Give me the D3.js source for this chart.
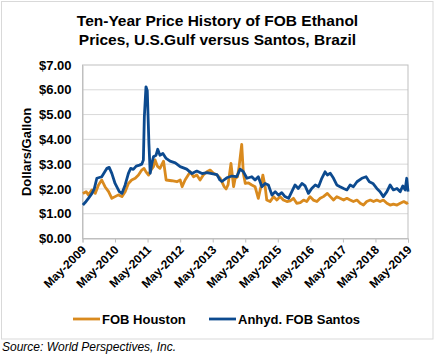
<!DOCTYPE html>
<html>
<head>
<meta charset="utf-8">
<script src="https://cdn.jsdelivr.net/npm/d3@7"></script>
<style>
  html, body { margin: 0; padding: 0; background: #fff; }
  svg { display: block; font-family: "Liberation Sans", Arial, sans-serif; }
</style>
</head>
<body>
<svg id="chart" width="435" height="356"></svg>
<script>
// ---- data (decimal years, $/gallon) ----
const titleLines = ["Ten-Year Price History of FOB Ethanol", "Prices, U.S.Gulf versus Santos, Brazil"];
const yTicks = [0, 1, 2, 3, 4, 5, 6, 7];
const xTickLabels = ["May-2009","May-2010","May-2011","May-2012","May-2013","May-2014","May-2015","May-2016","May-2017","May-2018","May-2019"];
const seriesNames = ["FOB Houston", "Anhyd. FOB Santos"];

const santosTime = [2009.34,2009.41,2009.51,2009.62,2009.69,2009.77,2009.92,2010.08,2010.15,2010.23,2010.33,2010.46,2010.54,2010.64,2010.74,2010.81,2010.89,2010.98,2011.08,2011.15,2011.20,2011.23,2011.28,2011.32,2011.37,2011.41,2011.46,2011.51,2011.59,2011.64,2011.71,2011.80,2011.90,2012.02,2012.18,2012.33,2012.53,2012.69,2012.84,2013.00,2013.15,2013.30,2013.46,2013.55,2013.61,2013.76,2013.92,2014.07,2014.17,2014.27,2014.38,2014.53,2014.63,2014.73,2014.84,2014.94,2015.04,2015.15,2015.25,2015.35,2015.45,2015.55,2015.66,2015.76,2015.86,2015.96,2016.07,2016.17,2016.27,2016.37,2016.48,2016.58,2016.68,2016.78,2016.85,2016.94,2017.04,2017.14,2017.24,2017.35,2017.45,2017.55,2017.65,2017.76,2017.91,2018.04,2018.14,2018.25,2018.37,2018.47,2018.57,2018.68,2018.78,2018.88,2018.99,2019.09,2019.17,2019.24,2019.29,2019.33];
const santosPrice = [1.35,1.45,1.62,1.82,2.00,2.43,2.49,2.83,2.87,2.63,2.22,1.89,1.82,2.16,2.63,2.83,2.79,2.92,2.96,3.00,3.17,4.91,6.12,5.96,3.84,2.63,3.03,3.30,3.36,3.60,3.36,3.43,3.23,3.12,3.05,2.90,2.80,2.62,2.72,2.62,2.66,2.62,2.58,2.36,2.30,2.45,2.52,2.50,2.80,2.70,2.43,2.49,2.36,2.49,2.09,2.22,2.16,1.75,1.89,1.75,1.85,1.69,1.62,1.89,2.16,2.02,2.22,2.12,1.82,2.02,2.16,2.09,2.43,2.69,2.56,2.63,2.43,2.16,2.09,2.02,1.96,2.16,2.09,2.29,2.43,2.49,2.29,2.22,2.02,1.89,1.69,1.89,2.16,1.96,2.02,1.89,2.12,1.96,2.43,1.89];

const houstonTime = [2009.34,2009.44,2009.51,2009.62,2009.72,2009.82,2009.92,2010.02,2010.13,2010.23,2010.33,2010.43,2010.54,2010.64,2010.74,2010.84,2010.95,2011.05,2011.15,2011.22,2011.28,2011.36,2011.43,2011.51,2011.56,2011.63,2011.71,2011.82,2011.90,2012.07,2012.23,2012.33,2012.39,2012.48,2012.64,2012.74,2012.84,2012.94,2013.04,2013.15,2013.25,2013.35,2013.46,2013.56,2013.68,2013.74,2013.80,2013.89,2013.97,2014.02,2014.09,2014.14,2014.22,2014.27,2014.33,2014.43,2014.53,2014.63,2014.73,2014.81,2014.87,2014.94,2014.99,2015.09,2015.20,2015.30,2015.40,2015.50,2015.61,2015.71,2015.81,2015.91,2016.02,2016.12,2016.22,2016.32,2016.42,2016.53,2016.63,2016.73,2016.85,2016.94,2017.04,2017.14,2017.24,2017.35,2017.45,2017.55,2017.65,2017.76,2017.86,2017.96,2018.06,2018.17,2018.27,2018.37,2018.47,2018.57,2018.68,2018.78,2018.88,2018.99,2019.09,2019.20,2019.29,2019.33];
const houstonPrice = [1.82,1.89,1.76,1.96,1.82,2.16,2.36,2.09,1.89,1.62,1.69,1.76,1.69,1.89,2.22,2.36,2.43,2.56,2.76,2.83,2.69,2.56,2.76,2.90,3.17,2.92,2.83,3.12,2.36,2.33,2.29,2.36,2.09,2.36,2.69,2.49,2.56,2.36,2.56,2.69,2.76,2.63,2.56,2.43,2.09,2.00,2.16,3.03,2.09,2.43,2.49,2.90,3.80,2.63,2.22,2.24,2.16,2.09,1.62,2.09,2.56,2.09,1.55,1.49,1.69,1.55,1.69,1.55,1.49,1.52,1.62,1.42,1.45,1.55,1.49,1.69,1.55,1.49,1.62,1.69,1.82,1.69,1.55,1.69,1.62,1.55,1.62,1.55,1.49,1.55,1.42,1.35,1.49,1.55,1.49,1.55,1.49,1.55,1.42,1.35,1.39,1.35,1.42,1.49,1.42,1.45];

const colors = ["#D98A1E", "#0C4A8F"];

// ---- helpers ----
const toDate = t => {
  const y = Math.floor(t);
  const s = Date.UTC(y, 0, 1), e = Date.UTC(y + 1, 0, 1);
  return new Date(s + (t - y) * (e - s));
};
const parseTick = d3.utcParse("%b-%Y");
const tickDates = xTickLabels.map(s => { const d = parseTick(s); return d; });

const svg = d3.select("#chart");

// outer border
svg.append("rect").attr("x", 1.5).attr("y", 1.5).attr("width", 431.5).attr("height", 337.5)
  .attr("fill", "#fff").attr("stroke", "#D9D9D9").attr("stroke-width", 1);

const L = 82.5, R = 408, T = 65, B = 238.5;
const x = d3.scaleUtc().domain([tickDates[0], tickDates[tickDates.length - 1]]).range([L, R]);
const y = d3.scaleLinear().domain([0, 7]).range([B, T]);

// title
svg.append("g").selectAll("text").data(titleLines).join("text")
  .attr("x", 217.5).attr("y", (d, i) => 26 + i * 18.5)
  .attr("text-anchor", "middle").attr("font-size", 15.5).attr("font-weight", "bold").attr("fill", "#000")
  .text(d => d);

// gridlines
svg.append("g").selectAll("line").data(yTicks.filter(v => v > 0 && v < 7)).join("line")
  .attr("x1", L).attr("x2", R).attr("y1", d => y(d)).attr("y2", d => y(d))
  .attr("stroke", "#D9D9D9").attr("stroke-width", 1);

// plot border
svg.append("rect").attr("x", L).attr("y", T).attr("width", R - L).attr("height", B - T)
  .attr("fill", "none").attr("stroke", "#BFBFBF").attr("stroke-width", 1);

// y axis
const yAxis = svg.append("g").attr("transform", `translate(${L},0)`)
  .call(d3.axisLeft(y).tickValues(yTicks).tickSize(0).tickPadding(11).tickFormat(d => "$" + d.toFixed(2)));
yAxis.select(".domain").attr("stroke", "#BFBFBF");
yAxis.selectAll("text").attr("font-size", 13).attr("font-weight", "bold").attr("fill", "#000")
  .attr("font-family", "Liberation Sans, Arial, sans-serif");

// x axis
const xAxis = svg.append("g").attr("transform", `translate(0,${B})`)
  .call(d3.axisBottom(x).tickValues(tickDates).tickSize(4).tickFormat((d, i) => xTickLabels[i]));
xAxis.select(".domain").attr("stroke", "#BFBFBF");
xAxis.selectAll(".tick line").attr("stroke", "#BFBFBF");
xAxis.selectAll("text")
  .attr("font-size", 12).attr("font-weight", "bold").attr("fill", "#000")
  .attr("font-family", "Liberation Sans, Arial, sans-serif")
  .attr("text-anchor", "end").attr("dy", null).attr("y", 0)
  .attr("transform", "translate(4,12) rotate(-45)");

// y label
svg.append("text").attr("transform", `translate(31,152) rotate(-90)`)
  .attr("text-anchor", "middle").attr("font-size", 13).attr("font-weight", "bold").text("Dollars/Gallon");

// lines
const line = d3.line().x(d => x(toDate(d[0]))).y(d => y(d[1])).curve(d3.curveLinear);
const houston = houstonTime.map((t, i) => [t, houstonPrice[i]]);
const santos = santosTime.map((t, i) => [t, santosPrice[i]]);
svg.append("path").datum(houston).attr("d", line).attr("fill", "none")
  .attr("stroke", colors[0]).attr("stroke-width", 2.8).attr("stroke-linejoin", "round");
svg.append("path").datum(santos).attr("d", line).attr("fill", "none")
  .attr("stroke", colors[1]).attr("stroke-width", 2.8).attr("stroke-linejoin", "round");

// legend
const leg = svg.append("g");
const legX = [73, 209];
seriesNames.forEach((n, i) => {
  leg.append("line").attr("x1", legX[i]).attr("x2", legX[i] + 27).attr("y1", 319).attr("y2", 319)
    .attr("stroke", colors[i]).attr("stroke-width", 2.8);
  leg.append("text").attr("x", legX[i] + 29).attr("y", 323.5).attr("font-size", 13).attr("font-weight", "bold")
    .text(n);
});

// source
svg.append("text").attr("x", 2).attr("y", 351).attr("font-size", 12).attr("font-style", "italic")
  .text("Source: World Perspectives, Inc.");
</script>
</body>
</html>
